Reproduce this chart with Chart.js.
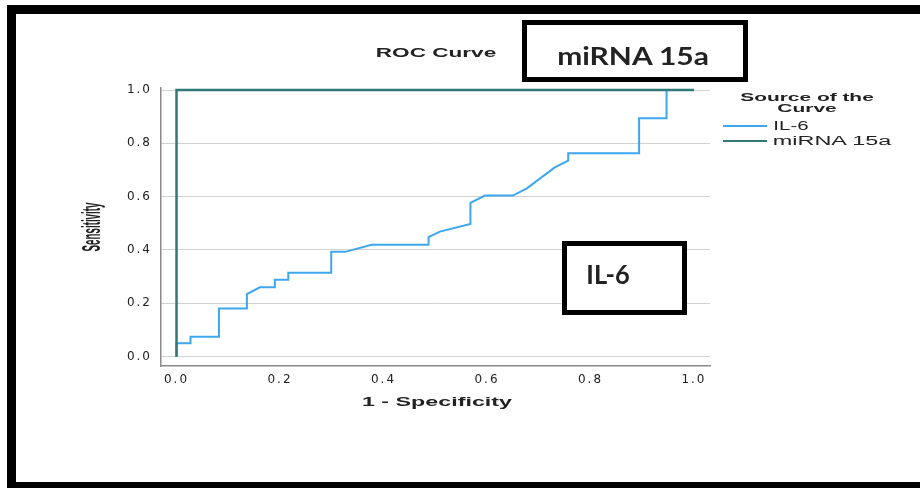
<!DOCTYPE html>
<html>
<head>
<meta charset="utf-8">
<script src="https://cdn.jsdelivr.net/npm/chart.js@4.4.0/dist/chart.umd.min.js"></script>
<style>
    body { margin: 0; background: #fff; }
    #wrap { position: relative; width: 920px; height: 488px; overflow: hidden; background: #fff; }
    #roc { position: absolute; left: 0; top: 0; }
    .frame { position: absolute; left: 7px; top: 5px; width: 960px; height: 483px; box-sizing: border-box;
             border-top: 9px solid #000; border-left: 9px solid #000; border-bottom: 6px solid #000; }
    .box { position: absolute; box-sizing: border-box; border: 5px solid #000; background: #fff; }
    .lbl { position: absolute; white-space: nowrap; line-height: 1; color: #222; left: 0; top: 0; }
    .swatch { position: absolute; height: 2px; width: 44px; left: 723px; }
</style>
</head>
<body>
<div id="wrap">
    <canvas id="roc" width="920" height="488"></canvas>
    <div class="frame"></div>
    <div class="box" style="left:522px;top:20px;width:226px;height:62px;"></div>
    <div class="box" style="left:562px;top:241px;width:125px;height:74px;"></div>
    <div class="swatch" id="sw0" style="top:125px;"></div>
    <div class="swatch" id="sw1" style="top:140px;"></div>
</div>
<script>
    // values
    const seriesNames = ["IL-6", "miRNA 15a"];
    const il6X = [0, 0, 0.027, 0.027, 0.082, 0.082, 0.136, 0.136, 0.161, 0.190, 0.190, 0.216, 0.216,
        0.299, 0.299, 0.326, 0.377, 0.487, 0.487, 0.509, 0.568, 0.568, 0.596, 0.650, 0.677, 0.731,
        0.757, 0.757, 0.894, 0.894, 0.947, 0.947, 1];
    const il6Y = [0, 0.050, 0.050, 0.075, 0.075, 0.181, 0.181, 0.235, 0.260, 0.260, 0.288, 0.288, 0.315,
        0.315, 0.393, 0.393, 0.420, 0.420, 0.448, 0.469, 0.4975, 0.577, 0.604, 0.604, 0.631, 0.710,
        0.735, 0.763, 0.763, 0.894, 0.894, 1, 1];
    const mirnaX = [0, 0, 1];
    const mirnaY = [0, 1, 1];
    const tickValues = [0, 0.2, 0.4, 0.6, 0.8, 1.0];

    const colors = ["#3ea6ee", "#2f7a77"];

    function toPoints(xs, ys) {
        return xs.map((x, i) => ({x: x, y: ys[i]}));
    }

    const tickFont = {family: "DejaVu Sans", size: 12};

    new Chart(document.getElementById("roc").getContext("2d"), {
        type: "line",
        data: {
            datasets: [
                {label: seriesNames[0], data: toPoints(il6X, il6Y), borderColor: colors[0],
                    borderWidth: 2, pointRadius: 0, tension: 0, fill: false, order: 1},
                {label: seriesNames[1], data: toPoints(mirnaX, mirnaY), borderColor: colors[1],
                    borderWidth: 2.5, pointRadius: 0, tension: 0, fill: false, order: 0}
            ]
        },
        options: {
            responsive: false,
            animation: false,
            layout: {padding: {left: 81, top: 88, right: 210, bottom: 62}},
            plugins: {legend: {display: false}, tooltip: {enabled: false}},
            scales: {
                x: {
                    type: "linear", min: -0.030, max: 1.031,
                    afterBuildTicks: s => { s.ticks = tickValues.map(v => ({value: v})); },
                    afterFit: s => { s.height = 60; },
                    grid: {display: false, drawTicks: false},
                    border: {display: true, color: "#8a8a8a", width: 1.5},
                    ticks: {padding: 7, color: "#222", font: tickFont, autoSkip: false, maxRotation: 0,
                        callback: v => v.toFixed(1)}
                },
                y: {
                    type: "linear", min: -0.035, max: 1.0075,
                    afterBuildTicks: s => { s.ticks = tickValues.map(v => ({value: v})); },
                    afterFit: s => { s.width = 80; },
                    grid: {color: "#d2d2d2", lineWidth: 1, drawTicks: false},
                    border: {display: true, color: "#8a8a8a", width: 1.5},
                    ticks: {padding: 9, color: "#222", font: tickFont, autoSkip: false,
                        callback: v => v.toFixed(1)}
                }
            }
        },
        plugins: [{
            id: "wideText",
            beforeDraw(chart) { chart.ctx.letterSpacing = "2px"; }
        }]
    });

    document.getElementById("sw0").style.background = colors[0];
    document.getElementById("sw1").style.background = colors[1];

    // text labels, stretched to the widths seen in the reference
    const wrap = document.getElementById("wrap");
    function addText(text, cx, cy, width, font, rotate) {
        const el = document.createElement("div");
        el.className = "lbl";
        el.style.font = font;
        el.textContent = text;
        wrap.appendChild(el);
        const k = width / el.offsetWidth;
        el.style.left = cx + "px";
        el.style.top = cy + "px";
        el.style.transform = "translate(-50%,-50%)" + (rotate ? " rotate(-90deg)" : "") + " scaleX(" + k + ")";
    }

    addText("ROC Curve", 436, 53, 121, "bold 12.5px 'Liberation Sans'");
    addText("miRNA 15a", 633, 54.5, 152, "bold 25px Lato");
    addText("IL-6", 608, 274, 43, "bold 26px Lato");
    addText("Source of the", 807, 97, 133, "bold 11px 'Liberation Sans'");
    addText("Curve", 807, 107.5, 59, "bold 11px 'Liberation Sans'");
    addText(seriesNames[0], 790.5, 126, 36, "12.5px 'Liberation Sans'");
    addText(seriesNames[1], 831.7, 141, 118, "12.5px 'Liberation Sans'");
    addText("1 - Specificity", 437, 401, 150, "bold 13.5px 'Liberation Sans'");
    addText("Sensitivity", 91, 227, 49, "bold 25px 'Liberation Sans Narrow', 'Liberation Sans'", true);
</script>
</body>
</html>
